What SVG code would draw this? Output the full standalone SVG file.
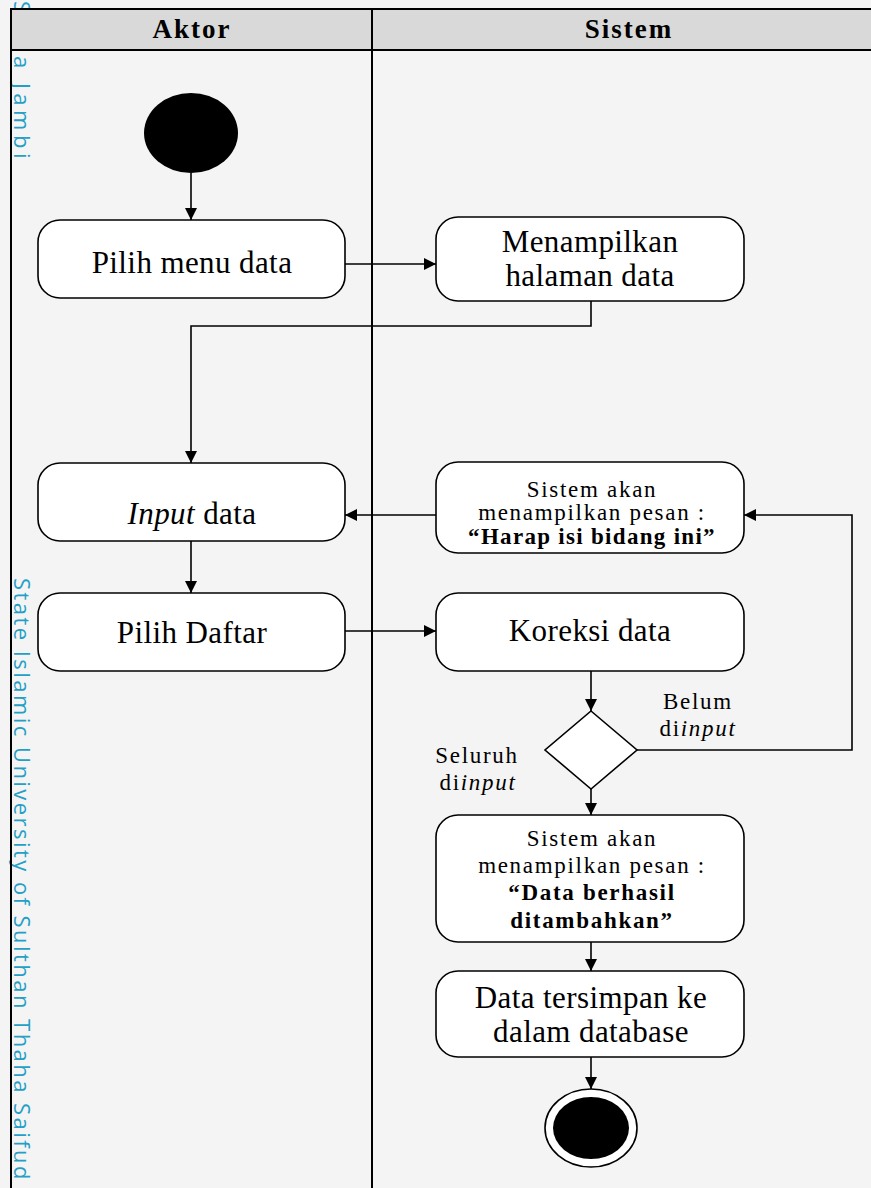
<svg xmlns="http://www.w3.org/2000/svg" width="871" height="1188" viewBox="0 0 871 1188">
<defs>
<marker id="ah" viewBox="0 0 12 12" refX="12" refY="6" markerWidth="12" markerHeight="12" markerUnits="userSpaceOnUse" orient="auto">
<path d="M0,0 L12,6 L0,12 Z" fill="#000"/>
</marker>
<style>
.lane{fill:none;stroke:#000;stroke-width:2}
.act{fill:#fff;stroke:#000;stroke-width:1.6}
.t{font-family:"Liberation Serif","Times New Roman",serif;fill:#000;text-anchor:middle}
.big{font-size:31px;letter-spacing:0.4px}
.sm{font-size:23px;letter-spacing:1.7px}
.hd{font-size:27px;font-weight:bold;letter-spacing:2px}
.b{font-weight:bold}
.wm{font-family:"Open Sans","DejaVu Sans",sans-serif;font-size:22px;fill:#249fc6;letter-spacing:2.45px}
.c{fill:none;stroke:#000;stroke-width:1.6;marker-end:url(#ah)}
</style>
</defs>
<rect x="0" y="0" width="871" height="1188" fill="#f4f4f4"/>
<g id="watermark">
<text class="wm" transform="translate(14,1) rotate(90)">S</text>
<text class="wm" transform="translate(14,56) rotate(90)" style="letter-spacing:4.5px">a Jambi</text>
<text class="wm" transform="translate(14,578) rotate(90)">State Islamic University of Sulthan Thaha Saifud</text>
</g>
<g id="pool" font-family="Liberation Serif, serif">
<rect x="11" y="9" width="870" height="41" fill="#d9d9d9"/>
<path class="lane" d="M11,1190 V9 H873 M11,50 H873 M372,9 V1190"/>
<text class="t hd" x="192" y="38">Aktor</text>
<text class="t hd" x="629" y="38">Sistem</text>
</g>
<g id="start"><ellipse cx="191" cy="133" rx="47" ry="40" fill="#000"/></g>
<g id="pilihMenu" font-family="Liberation Serif, serif"><rect class="act" x="38" y="220" width="307" height="78" rx="22"/><text class="t big" x="192" y="273">Pilih menu data</text></g>
<g id="tampilHalaman" font-family="Liberation Serif, serif"><rect class="act" x="436" y="217" width="308" height="84" rx="22"/><text class="t big" x="590" y="252">Menampilkan</text><text class="t big" x="590" y="286">halaman data</text></g>
<g id="inputData" font-family="Liberation Serif, serif"><rect class="act" x="38" y="463" width="307" height="78" rx="22"/><text class="t big" x="192" y="524"><tspan font-style="italic">Input</tspan> data</text></g>
<g id="pesanHarap" font-family="Liberation Serif, serif"><rect class="act" x="436" y="462" width="308" height="91" rx="22"/><text class="t sm" x="592" y="497">Sistem akan</text><text class="t sm" x="592" y="520">menampilkan pesan :</text><text class="t sm b" x="592" y="544" style="letter-spacing:1.3px">“Harap isi bidang ini”</text></g>
<g id="pilihDaftar" font-family="Liberation Serif, serif"><rect class="act" x="38" y="593" width="307" height="78" rx="22"/><text class="t big" x="192" y="643">Pilih Daftar</text></g>
<g id="koreksi" font-family="Liberation Serif, serif"><rect class="act" x="436" y="593" width="308" height="78" rx="22"/><text class="t big" x="590" y="641">Koreksi data</text></g>
<g id="decision"><path class="act" d="M591,711 L637,750 L591,789 L545,750 Z"/></g>
<g id="pesanBerhasil" font-family="Liberation Serif, serif"><rect class="act" x="436" y="815" width="308" height="127" rx="22"/><text class="t sm" x="592" y="846">Sistem akan</text><text class="t sm" x="592" y="873">menampilkan pesan :</text><text class="t sm b" x="592" y="900">“Data berhasil</text><text class="t sm b" x="592" y="928">ditambahkan”</text></g>
<g id="simpan" font-family="Liberation Serif, serif"><rect class="act" x="436" y="971" width="308" height="86" rx="22"/><text class="t big" x="591" y="1008">Data tersimpan ke</text><text class="t big" x="591" y="1042">dalam database</text></g>
<g id="end"><ellipse cx="591" cy="1128" rx="46" ry="39" fill="#fff" stroke="#000" stroke-width="1.6"/><ellipse cx="591" cy="1128" rx="38" ry="31" fill="#000"/></g>
<g id="connectors">
<path class="c" d="M191,173 V220"/>
<path class="c" d="M345,264 H436"/>
<path class="c" d="M591,301 V326 H191 V463"/>
<path class="c" d="M436,515 H345"/>
<path class="c" d="M191,541 V593"/>
<path class="c" d="M345,631 H436"/>
<path class="c" d="M591,671 V711"/>
<path class="c" d="M637,750 H852 V515 H744"/>
<path class="c" d="M591,789 V815"/>
<path class="c" d="M591,942 V971"/>
<path class="c" d="M591,1057 V1089"/>
</g>
<g id="labels" font-family="Liberation Serif, serif">
<text class="t sm" x="698" y="709">Belum</text>
<text class="t sm" x="698" y="736">di<tspan font-style="italic">input</tspan></text>
<text class="t sm" x="477" y="763">Seluruh</text>
<text class="t sm" x="478" y="790">di<tspan font-style="italic">input</tspan></text>
</g>
</svg>
